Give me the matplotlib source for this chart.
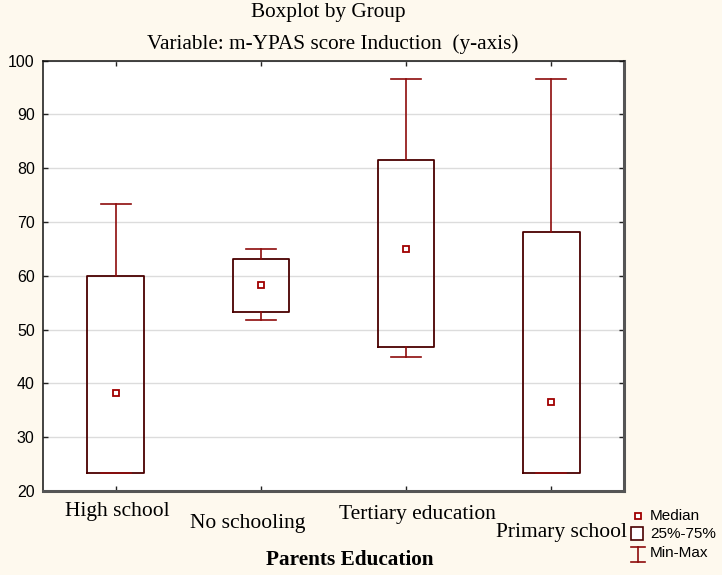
import matplotlib
matplotlib.use("Agg")
import matplotlib.pyplot as plt
from matplotlib.patches import Rectangle
from matplotlib.lines import Line2D

# ---- data ----
categories = ["High school", "No schooling", "Tertiary education", "Primary school"]
q_min    = [23.3, 51.7, 45.0, 23.3]
q_25     = [23.3, 53.3, 46.7, 23.3]
q_median = [38.2, 58.3, 65.0, 36.6]
q_75     = [60.0, 63.1, 81.5, 68.1]
q_max    = [73.3, 64.9, 96.6, 96.6]
yticks = [20, 30, 40, 50, 60, 70, 80, 90, 100]

BG = "#fef9ee"
BOX = "#4a0000"
RED = "#8e0c0c"

fig = plt.figure(figsize=(7.22, 5.75), dpi=100, facecolor=BG)
ax = fig.add_axes([43/722, 1-491/575, (624-43)/722, (491-60.7)/575])
ax.set_facecolor("white")

stats = []
for i, c in enumerate(categories):
    stats.append(dict(label=c, whislo=q_min[i], q1=q_25[i], med=q_median[i],
                      q3=q_75[i], whishi=q_max[i], fliers=[]))
pos = list(range(len(categories)))
ax.bxp(stats, positions=pos, widths=0.39, capwidths=0.205, showfliers=False,
       boxprops=dict(color=BOX, linewidth=1.3),
       whiskerprops=dict(color=RED, linewidth=1.2),
       capprops=dict(color=RED, linewidth=1.2),
       medianprops=dict(linewidth=0), zorder=3)
ax.plot(pos, q_median, linestyle="none", marker="s", ms=4.5, mfc="white",
        mec="#a00000", mew=1.3, zorder=4)

ax.set_xlim(-0.5, 3.5)
ax.set_ylim(20, 100)
ax.set_yticks(yticks)
ax.set_yticklabels([str(v) for v in yticks], family="Liberation Sans", fontsize=11.5)
ax.yaxis.grid(True, color="#dcdcdc", linewidth=1.0, zorder=0)
ax.set_axisbelow(True)
ax.set_xticks(pos)
ax.set_xticklabels([])
ax.tick_params(axis="both", direction="in", length=3.5, width=1, color="#222222",
               top=True, right=True, pad=4)
ax.tick_params(axis="y", pad=6)

for s in ("top", "left"):
    ax.spines[s].set_color("#111111")
    ax.spines[s].set_linewidth(1.1)
for s in ("right", "bottom"):
    ax.spines[s].set_color("#555555")
    ax.spines[s].set_linewidth(2.2)

# staggered category labels
dx = [0.01, -0.09, 0.08, 0.07]
ly = [-0.0488, -0.0744, -0.0535, -0.0953]
for i, c in enumerate(categories):
    ax.text(pos[i] + dx[i], ly[i], c, transform=ax.get_xaxis_transform(),
            ha="center", va="center", family="Liberation Serif", fontsize=15.5)

fig.text(328/722, 1-13/575, "Boxplot by Group", ha="center", va="center",
         family="Liberation Serif", fontsize=15.3)
fig.text(333/722, 1-44/575, "Variable: m-YPAS score Induction  (y-axis)", ha="center",
         va="center", family="Liberation Serif", fontsize=15.3)
fig.text(350/722, 1-560/575, "Parents Education", ha="center", va="center",
         family="Liberation Serif", fontsize=15.3, fontweight="bold")

# legend (manual)
def px(x, y):
    return (x/722, 1-y/575)

mx, my = px(637.5, 516)
fig.add_artist(Line2D([mx], [my], marker="s", ms=4.5, mfc="white", mec="#a00000",
                      mew=1.3, transform=fig.transFigure))
fig.text(650/722, 1-516/575, "Median", ha="left", va="center",
         family="Liberation Sans", fontsize=11)
bx, by = px(631, 540)
fig.add_artist(Rectangle((bx, by), 12/722, 13/575, facecolor="white", edgecolor=BOX,
                         linewidth=1.2, transform=fig.transFigure))
fig.text(650/722, 1-534/575, "25%-75%", ha="left", va="center",
         family="Liberation Sans", fontsize=11)
x0, x1, xc = 631/722, 645/722, 638/722
ytop, ybot = 1-547/575, 1-562/575
fig.add_artist(Line2D([x0, x1], [ytop, ytop], color=RED, lw=1.2, transform=fig.transFigure))
fig.add_artist(Line2D([x0, x1], [ybot, ybot], color=RED, lw=1.2, transform=fig.transFigure))
fig.add_artist(Line2D([xc, xc], [ytop, ybot], color=RED, lw=1.2, transform=fig.transFigure))
fig.text(650/722, 1-553/575, "Min-Max", ha="left", va="center",
         family="Liberation Sans", fontsize=11)

fig.savefig("out.png", dpi=100, facecolor=BG)
